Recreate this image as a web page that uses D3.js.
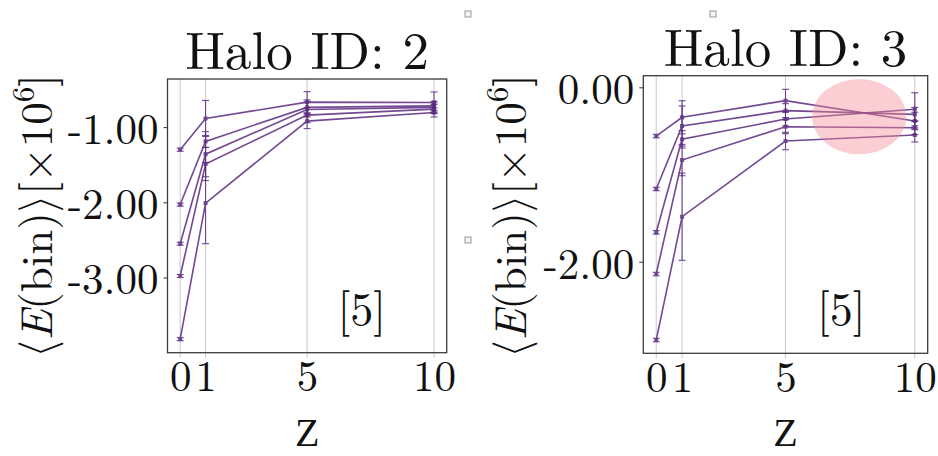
<!DOCTYPE html>
<html>
<head>
<meta charset="utf-8">
<script src="https://cdn.jsdelivr.net/npm/d3@7"></script>
<style>
  html, body { margin: 0; padding: 0; background: #fff; }
  svg { display: block; }
</style>
</head>
<body>
<svg id="chart" width="938" height="456"></svg>
<script>
// Redshift sampling points and tick labels
const redshifts = [0, 1, 5, 10];
const zTickLabels = ["0", "1", "5", "10"];

// Halo 2: mean binding energy per bin (×10^6), one row per bin
const halo2Mean = [
  [-1.30, -0.885, -0.668, -0.672],
  [-2.03, -1.19, -0.738, -0.717],
  [-2.55, -1.36, -0.765, -0.738],
  [-2.98, -1.49, -0.840, -0.760],
  [-3.82, -2.01, -0.920, -0.805]
];
const halo2Err = [
  [0.02, 0.24, 0.14, 0.14],
  [0.02, 0.08, 0.10, 0.06],
  [0.02, 0.30, 0.10, 0.06],
  [0.02, 0.22, 0.10, 0.06],
  [0.02, 0.54, 0.10, 0.06]
];
const halo2Ticks = [-1, -2, -3];

// Halo 3
const halo3Mean = [
  [-0.559, -0.344, -0.153, -0.386],
  [-1.166, -0.444, -0.268, -0.310],
  [-1.663, -0.596, -0.364, -0.252],
  [-2.141, -0.834, -0.452, -0.463],
  [-2.898, -1.484, -0.616, -0.547]
];
const halo3Err = [
  [0.02, 0.19, 0.13, 0.10],
  [0.02, 0.23, 0.08, 0.08],
  [0.02, 0.10, 0.08, 0.19],
  [0.02, 0.18, 0.08, 0.08],
  [0.02, 0.50, 0.10, 0.08]
];
const halo3Ticks = [0, -2];

// Highlighted region on the Halo 3 panel (data coordinates)
const halo3Highlight = { z: 7.85, e: -0.337, rz: 1.82, re: 0.432 };

const lineColor = "#5a2a80";
const FONT = '"Latin Modern Roman", "Liberation Serif", serif';
const BRACKET_FONT = '"Latin Modern Math", "DejaVu Serif", serif';

const panels = [
  { title: "Halo ID: 2", mean: halo2Mean, err: halo2Err, ticks: halo2Ticks,
    x0: 167.5, x1: 446.7, y0: 79, y1: 352.7, yDomain: [-4.0, -0.36],
    labelX: 38, highlight: null },
  { title: "Halo ID: 3", mean: halo3Mean, err: halo3Err, ticks: halo3Ticks,
    x0: 643.3, x1: 927.7, y0: 75.7, y1: 353.3, yDomain: [-3.05, 0.133],
    labelX: 512, highlight: halo3Highlight }
];

const svg = d3.select("#chart");

panels.forEach(p => {
  const x = d3.scaleLinear().domain([-0.5, 10.5]).range([p.x0, p.x1]);
  const y = d3.scaleLinear().domain(p.yDomain).range([p.y1, p.y0]);
  const g = svg.append("g");

  // vertical grid at the redshift ticks
  g.selectAll("line.grid").data(redshifts).join("line")
    .attr("class", "grid")
    .attr("x1", d => x(d)).attr("x2", d => x(d))
    .attr("y1", p.y0).attr("y2", p.y1 + 5)
    .attr("stroke", "#c8c8c8").attr("stroke-width", 1);

  // y axis ticks and labels
  const yAxis = d3.axisLeft(y).tickValues(p.ticks).tickSize(4).tickPadding(5)
    .tickFormat(d => d3.format(".2f")(d).replace("−", "-"));
  const ya = g.append("g").attr("transform", `translate(${p.x0},0)`).call(yAxis);
  ya.select(".domain").remove();
  ya.selectAll(".tick line").attr("stroke", "#333");
  ya.selectAll(".tick text")
    .attr("dy", "0.38em").attr("fill", "#111")
    .style("font-family", FONT).style("font-size", "43px");

  // x axis labels
  const xAxis = d3.axisBottom(x).tickValues(redshifts).tickSize(0).tickPadding(8)
    .tickFormat((d, i) => zTickLabels[i]);
  const xa = g.append("g").attr("transform", `translate(0,${p.y1})`).call(xAxis);
  xa.select(".domain").remove();
  xa.selectAll(".tick text")
    .attr("dy", "0.71em").attr("fill", "#111")
    .style("font-family", FONT).style("font-size", "43px");

  // series lines
  const line = d3.line().x((d, i) => x(redshifts[i])).y(d => y(d));
  p.mean.forEach((row, s) => {
    const sg = g.append("g").attr("opacity", 0.85);
    sg.append("path").attr("d", line(row))
      .attr("fill", "none").attr("stroke", lineColor).attr("stroke-width", 1.6);
    // error bars with caps
    row.forEach((v, i) => {
      const e = p.err[s][i];
      const cx = x(redshifts[i]);
      sg.append("line").attr("x1", cx).attr("x2", cx)
        .attr("y1", y(v - e)).attr("y2", y(v + e))
        .attr("stroke", lineColor).attr("stroke-width", 1.1);
      [v - e, v + e].forEach(c => {
        sg.append("line").attr("x1", cx - 3.5).attr("x2", cx + 3.5)
          .attr("y1", y(c)).attr("y2", y(c))
          .attr("stroke", lineColor).attr("stroke-width", 1.1);
      });
      sg.append("rect").attr("x", cx - 2).attr("y", y(v) - 2)
        .attr("width", 4).attr("height", 4).attr("fill", lineColor);
    });
  });

  // highlight ellipse
  if (p.highlight) {
    const h = p.highlight;
    g.append("ellipse")
      .attr("cx", x(h.z)).attr("cy", y(h.e))
      .attr("rx", x(h.z + h.rz) - x(h.z))
      .attr("ry", y(h.e - h.re) - y(h.e))
      .attr("fill", "#f28a96").attr("opacity", 0.42);
  }

  // frame
  g.append("rect").attr("x", p.x0).attr("y", p.y0)
    .attr("width", p.x1 - p.x0).attr("height", p.y1 - p.y0)
    .attr("fill", "none").attr("stroke", "#3a3a3a").attr("stroke-width", 1.3);

  // bin count annotation
  g.append("text")
    .attr("x", p.x0 + 0.696 * (p.x1 - p.x0))
    .attr("y", p.y0 + 0.85 * (p.y1 - p.y0))
    .attr("text-anchor", "middle").attr("dy", "0.3em").attr("fill", "#111")
    .style("font-family", FONT).style("font-size", "46px").text("[5]");

  // title
  g.append("text")
    .attr("x", (p.x0 + p.x1) / 2).attr("y", p.y0 - 10)
    .attr("text-anchor", "middle").attr("fill", "#111")
    .style("font-family", FONT).style("font-size", "53px")
    .text(p.title);

  // x label
  g.append("text")
    .attr("x", (p.x0 + p.x1) / 2).attr("y", 446)
    .attr("text-anchor", "middle").attr("fill", "#111")
    .style("font-family", '"Liberation Serif", serif').style("font-size", "40px").text("Z");

  // y label
  const yl = g.append("text")
    .attr("transform", `translate(${p.labelX},216) rotate(-90)`)
    .attr("text-anchor", "middle").attr("dy", "0.3em").attr("fill", "#111")
    .style("font-family", FONT).style("font-size", "45px");
  yl.append("tspan").style("font-family", BRACKET_FONT).text("⟨");
  yl.append("tspan").style("font-style", "italic").text("E");
  yl.append("tspan").text("(bin)");
  yl.append("tspan").style("font-family", BRACKET_FONT).text("⟩");
  yl.append("tspan").text("[×10");
  yl.append("tspan").style("font-size", "31px").attr("dy", "-0.55em").text("6");
  yl.append("tspan").attr("dy", "0.38em").text("]");
});

// small placeholder boxes
const boxes = [[468, 14], [713, 14], [468, 240]];
svg.selectAll("rect.ph").data(boxes).join("rect")
  .attr("class", "ph")
  .attr("x", d => d[0] - 3).attr("y", d => d[1] - 3)
  .attr("width", 6).attr("height", 6)
  .attr("fill", "#f4f4f4").attr("stroke", "#9a9a9a").attr("stroke-width", 1);
</script>
</body>
</html>
